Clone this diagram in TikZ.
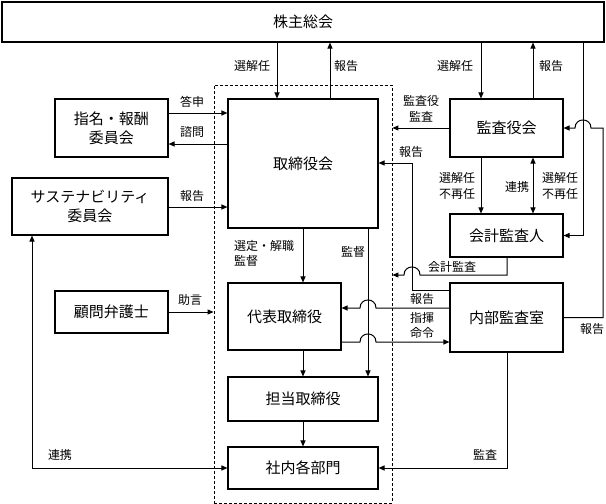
\documentclass[tikz,border=0pt]{standalone}
\usepackage{fontspec}
\setmainfont{Noto Sans CJK JP}
\usetikzlibrary{arrows.meta}
\begin{document}
\begin{tikzpicture}[x=1pt,y=-1pt,
  box/.style={draw, line width=1.1pt, fill=white, inner sep=0pt, align=center,
    font=\fontsize{15}{19}\selectfont},
  lbl/.style={inner sep=0pt, align=center, font=\fontsize{12}{15.5}\selectfont},
  ln/.style={line width=1pt},
  arr/.style={line width=1pt, -{Triangle[length=6pt,width=5pt]}},
  dblarr/.style={line width=1pt, {Triangle[length=6pt,width=5pt]}-{Triangle[length=6pt,width=5pt]}},
  frm/.style={draw, line width=0.9pt, dash pattern=on 3pt off 2pt, inner sep=0pt}]
\useasboundingbox (0,0) rectangle (606,504);

% dashed frame
\node[frm, minimum width=178pt, minimum height=418pt] (frame) at (303,294) {};

% boxes
\node[box, minimum width=602pt, minimum height=40pt] (top) at (303,22) {株主総会};
\node[box, minimum width=150pt, minimum height=129pt] (board) at (303,163.5) {取締役会};
\node[box, minimum width=113pt, minimum height=58pt] (nom) at (111.5,128) {指名・報酬\\委員会};
\node[box, minimum width=156pt, minimum height=57pt] (sust) at (90,206.5) {サステナビリティ\\委員会};
\node[box, minimum width=113pt, minimum height=42pt] (adv) at (111.5,312) {顧問弁護士};
\node[box, minimum width=113pt, minimum height=67pt] (rep) at (284.5,316.5) {代表取締役};
\node[box, minimum width=150pt, minimum height=44pt] (tanto) at (303,399) {担当取締役};
\node[box, minimum width=150pt, minimum height=42pt] (dept) at (303,468) {社内各部門};
\node[box, minimum width=113pt, minimum height=58pt] (kansa) at (506.5,128) {監査役会};
\node[box, minimum width=113pt, minimum height=43pt] (kaikei) at (506.5,235.5) {会計監査人};
\node[box, minimum width=113pt, minimum height=69pt] (naibu) at (506.5,317.5) {内部監査室};

% helper coordinates
\coordinate (xA) at (277,0);
\coordinate (xB) at (330,0);
\coordinate (xC) at (481,0);
\coordinate (xD) at (533,0);
\coordinate (xE) at (583,0);
\coordinate (xF) at (603,0);
\coordinate (xG) at (412,0);
\coordinate (xH) at (368,0);
\coordinate (xI) at (507,0);
\coordinate (xJ) at (32,0);
\coordinate (yA) at (0,113);
\coordinate (yB) at (0,144);
\coordinate (yC) at (0,207);
\coordinate (yF) at (0,163);
\coordinate (yH) at (0,290);
\coordinate (yI) at (0,308);
\coordinate (yJ) at (0,342);
\coordinate (j1a) at (591,128);
\coordinate (j1b) at (575,128);
\coordinate (j2a) at (420,275);
\coordinate (j2b) at (404,275);
\coordinate (j3a) at (376,308);
\coordinate (j3b) at (360,308);
\coordinate (j4a) at (360,342);
\coordinate (j4b) at (376,342);

% top connections
\draw[arr] (top.south -| xA) -- (board.north -| xA);
\draw[arr] (board.north -| xB) -- (top.south -| xB);
\draw[arr] (top.south -| xC) -- (kansa.north -| xC);
\draw[arr] (kansa.north -| xD) -- (top.south -| xD);
\draw[arr] (top.south -| xE) |- (kaikei.east);

% committees
\draw[arr] (nom.east |- yA) -- (board.west |- yA);
\draw[arr] (board.west |- yB) -- (nom.east |- yB);
\draw[arr] (sust.east |- yC) -- (board.west |- yC);
\draw[arr] (adv.east) -- (frame.west |- adv.east);
\draw[dblarr] (dept.west) -| (sust.south -| xJ);

% board internal
\draw[arr] (board.south) -- (board.south |- rep.north);
\draw[arr] (board.south -| xH) -- (tanto.north -| xH);
\draw[arr] (rep.south -| board.south) -- (tanto.north);
\draw[arr] (tanto.south) -- (dept.north);

% auditors
\draw[arr] (kansa.west) -- (frame.east |- kansa.west);
\draw[arr] (kansa.south -| xC) -- (kaikei.north -| xC);
\draw[dblarr] (kansa.south -| xD) -- (kaikei.north -| xD);
\draw[arr] (naibu.east) -- (naibu.east -| xF) -- (j1a -| xF) -- (j1a)
  .. controls +(0,-10.7) and +(0,-10.7) .. (j1b) -- (kansa.east);
\draw[arr] (kaikei.south -| xI) |- (j2a)
  .. controls +(0,-10.7) and +(0,-10.7) .. (j2b) -- (frame.east |- j2b);
\draw[arr] (naibu.west |- yH) -| (xG |- yF) -- (board.east |- yF);
\draw[arr] (naibu.west |- yI) -- (j3a)
  .. controls +(0,-10.7) and +(0,-10.7) .. (j3b) -- (rep.east |- yI);
\draw[arr] (rep.east |- yJ) -- (j4a)
  .. controls +(0,-10.7) and +(0,-10.7) .. (j4b) -- (naibu.west |- yJ);
\draw[arr] (naibu.south -| xI) |- (dept.east);

% labels
\node[lbl] (l1) at (252,66) {選解任};
\node[lbl] (l2) at (346,66) {報告};
\node[lbl] (l3) at (455,66) {選解任};
\node[lbl] (l4) at (551,66) {報告};
\node[lbl] (l5) at (192,102) {答申};
\node[lbl] (l6) at (192,132) {諮問};
\node[lbl] (l7) at (192,196) {報告};
\node[lbl] (l8) at (190,300) {助言};
\node[lbl] (l9) at (421,109) {監査役\\監査};
\node[lbl] (l10) at (411,152) {報告};
\node[lbl] (l11) at (457,186) {選解任\\不再任};
\node[lbl] (l12) at (517,187) {連携};
\node[lbl] (l13) at (560,186) {選解任\\不再任};
\node[lbl] (l14) at (452,267) {会計監査};
\node[lbl] (l15) at (422,299) {報告};
\node[lbl] (l16) at (422,325.5) {指揮\\命令};
\node[lbl] (l17) at (592,329) {報告};
\node[lbl, anchor=west, align=left] (l18) at (234,253.5) {選定・解職\\監督};
\node[lbl] (l19) at (353,252) {監督};
\node[lbl] (l20) at (60,455) {連携};
\node[lbl] (l21) at (485,455) {監査};
\end{tikzpicture}
\end{document}
